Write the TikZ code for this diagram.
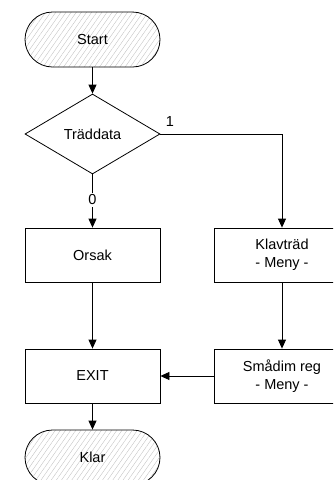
\documentclass[tikz,border=0pt]{standalone}
\usepackage{fontspec}
\setmainfont{Liberation Sans}
\usetikzlibrary{shapes.geometric,arrows.meta,patterns.meta}
\begin{document}
\begin{tikzpicture}[x=1pt,y=-1pt,
  every node/.style={font=\fontsize{14.5}{18}\selectfont},
  box/.style={draw=black,line width=0.8pt,minimum width=135pt,minimum height=54pt,inner sep=0pt,align=center},
  term/.style={draw=black,line width=0.8pt,rounded corners=27.5pt,minimum width=135pt,minimum height=55pt,inner sep=0pt,
     pattern={Lines[angle=55,distance=4.2pt,line width=0.35pt]},pattern color=black!25},
  dec/.style={draw=black,line width=0.8pt,diamond,aspect=1.6875,minimum width=135pt,minimum height=80pt,inner sep=0pt},
  conn/.style={draw=black,line width=0.8pt},
  arr/.style={conn,-{Triangle[length=9pt,width=8pt]}},
  lbl/.style={inner sep=0pt}
]
\clip (0,0) rectangle (333,480);
\useasboundingbox (0,0) rectangle (333,480);
\node[term] (start) at (92.5,39.5) {};
\node at (start) {Start};
\node[dec] (dec) at (92.5,134) {Träddata};
\node[box] (orsak) at (92.5,255) {Orsak};
\node[box] (klav) at (282,255) {Klavträd\\- Meny -};
\node[box] (exit) at (92.5,376) {EXIT};
\node[box] (smad) at (282,376) {Smådim reg\\- Meny -};
\node[term] (klar) at (92.5,457.5) {};
\node at (klar) {Klar};
\coordinate (corner) at (klav.north |- dec.east);
\draw[arr] (start) -- (dec);
\draw[arr] (dec.south) -- (orsak.north) node[lbl,pos=0.48,fill=white,inner ysep=2pt] (zero) {0};
\draw[arr] (dec.east) -- (corner) -- (klav.north);
\node[lbl] (one) at (170,122) {1};
\draw[arr] (orsak) -- (exit);
\draw[arr] (exit) -- (klar);
\draw[arr] (klav) -- (smad);
\draw[arr] (smad.west) -- (exit.east);
\end{tikzpicture}
\end{document}
